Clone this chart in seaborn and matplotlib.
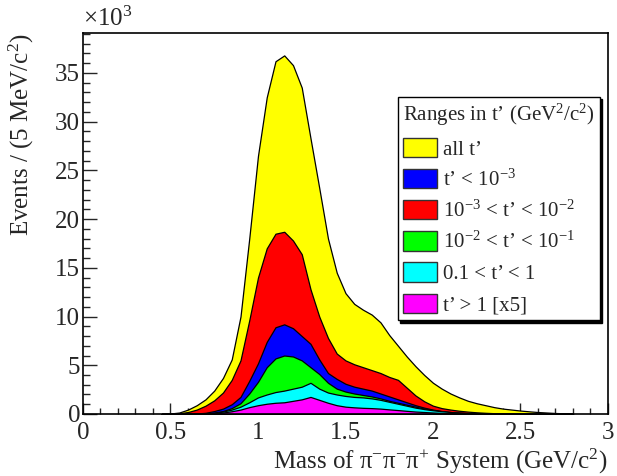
import numpy as np
import pandas as pd
import seaborn as sns
import matplotlib.pyplot as plt
from matplotlib.patches import Patch
from matplotlib.ticker import MultipleLocator

# bin centres in GeV/c^2, counts in units of 10^3 events per 5 MeV
mass = [0.45, 0.50, 0.55, 0.60, 0.65, 0.70, 0.75, 0.80, 0.85, 0.90,
        0.95, 1.00, 1.05, 1.10, 1.15, 1.20, 1.25, 1.30, 1.35, 1.40,
        1.45, 1.50, 1.55, 1.60, 1.65, 1.70, 1.75, 1.80, 1.85, 1.90,
        1.95, 2.00, 2.05, 2.10, 2.15, 2.20, 2.25, 2.30, 2.35, 2.40,
        2.45, 2.50, 2.55, 2.60, 2.65, 2.70, 2.75, 2.80]

all_t = [0.0, 0.05, 0.15, 0.45, 0.9, 1.5, 2.4, 3.7, 5.6, 10.0,
         18.0, 26.5, 32.5, 36.2, 36.8, 35.8, 33.5, 28.3, 23.2, 18.0,
         14.5, 12.4, 11.3, 10.7, 10.2, 9.4, 8.1, 7.0, 5.9, 4.9,
         4.0, 3.2, 2.6, 2.1, 1.7, 1.35, 1.1, 0.9, 0.7, 0.55,
         0.45, 0.35, 0.27, 0.2, 0.15, 0.1, 0.07, 0.05]

t_1e3_1e2 = [0.0, 0.02, 0.07, 0.2, 0.45, 0.85, 1.4, 2.2, 3.5, 5.5,
             9.6, 14.0, 17.0, 18.5, 18.7, 17.8, 16.4, 12.8, 10.0, 7.8,
             6.2, 5.5, 5.1, 4.8, 4.5, 4.2, 3.8, 3.5, 2.7, 1.9,
             1.3, 0.85, 0.6, 0.45, 0.33, 0.24, 0.17, 0.12, 0.08, 0.05,
             0.03, 0.02, 0.01, 0.0, 0.0, 0.0, 0.0, 0.0]

t_lt_1e3 = [0.0, 0.0, 0.0, 0.0, 0.05, 0.12, 0.3, 0.55, 1.0, 1.75,
            3.4, 5.2, 7.4, 8.9, 9.2, 8.8, 8.0, 7.2, 5.6, 4.2,
            3.6, 3.1, 2.8, 2.6, 2.4, 2.1, 1.8, 1.5, 1.2, 0.9,
            0.65, 0.45, 0.3, 0.2, 0.13, 0.08, 0.05, 0.03, 0.02, 0.01,
            0.0, 0.0, 0.0, 0.0, 0.0, 0.0, 0.0, 0.0]

t_1e2_1e1 = [0.0, 0.0, 0.0, 0.0, 0.0, 0.05, 0.15, 0.3, 0.6, 1.1,
             2.1, 3.3, 4.8, 5.7, 6.0, 5.9, 5.5, 4.8, 4.1, 3.2,
             2.6, 2.3, 2.1, 1.95, 1.8, 1.6, 1.35, 1.15, 0.95, 0.75,
             0.55, 0.4, 0.28, 0.18, 0.12, 0.08, 0.05, 0.03, 0.02, 0.01,
             0.0, 0.0, 0.0, 0.0, 0.0, 0.0, 0.0, 0.0]

t_01_1 = [0.0, 0.0, 0.0, 0.0, 0.0, 0.03, 0.1, 0.25, 0.45, 0.75,
          1.2, 1.7, 2.0, 2.25, 2.4, 2.6, 2.8, 3.2, 2.6, 2.2,
          2.0, 1.85, 1.75, 1.7, 1.6, 1.45, 1.25, 1.05, 0.85, 0.65,
          0.5, 0.38, 0.28, 0.2, 0.14, 0.09, 0.06, 0.04, 0.02, 0.01,
          0.0, 0.0, 0.0, 0.0, 0.0, 0.0, 0.0, 0.0]

t_gt_1 = [0.0, 0.0, 0.0, 0.0, 0.0, 0.03, 0.08, 0.15, 0.28, 0.45,
          0.7, 0.9, 1.05, 1.15, 1.2, 1.35, 1.5, 1.75, 1.45, 1.15,
          0.9, 0.75, 0.68, 0.63, 0.6, 0.55, 0.47, 0.4, 0.32, 0.25,
          0.2, 0.15, 0.11, 0.08, 0.06, 0.04, 0.03, 0.02, 0.01, 0.0,
          0.0, 0.0, 0.0, 0.0, 0.0, 0.0, 0.0, 0.0]

series = [
    ("all t’",                            all_t,     "#ffff00"),
    ("10$^{-3}$ < t’ < 10$^{-2}$",        t_1e3_1e2, "#ff0000"),
    ("t’ < 10$^{-3}$",                    t_lt_1e3,  "#0000ff"),
    ("10$^{-2}$ < t’ < 10$^{-1}$",        t_1e2_1e1, "#00ff00"),
    ("0.1 < t’ < 1",                      t_01_1,    "#00ffff"),
    ("t’ > 1 [x5]",                       t_gt_1,    "#ff00ff"),
]
legend_order = [0, 2, 1, 3, 4, 5]

sns.set_style("white")
plt.rcParams["font.family"] = ["Liberation Serif", "DejaVu Serif"]
plt.rcParams["mathtext.fontset"] = "custom"
plt.rcParams["mathtext.rm"] = "Liberation Serif"
plt.rcParams["mathtext.it"] = "Liberation Serif:italic"
plt.rcParams["mathtext.default"] = "regular"

fig = plt.figure(figsize=(6.17, 4.76), dpi=100)
ax = fig.add_axes([0.1345, 0.1303, 0.8509, 0.8004])

for label, vals, color in series:
    df = pd.DataFrame({"mass": mass, "n": vals})
    sns.histplot(data=df, x="mass", weights="n", binwidth=0.05,
                 binrange=(0.425, 2.825), element="poly", fill=True,
                 color=color, alpha=1, edgecolor="black", linewidth=0.9, ax=ax)

ax.set_xlim(0, 3)
ax.set_ylim(0, 39.1)
ax.xaxis.set_major_locator(MultipleLocator(0.5))
ax.xaxis.set_minor_locator(MultipleLocator(0.1))
ax.yaxis.set_major_locator(MultipleLocator(5))
ax.yaxis.set_minor_locator(MultipleLocator(1))
ax.xaxis.set_major_formatter(lambda v, p: f"{v:g}")
ax.tick_params(axis="y", which="major", direction="in", length=10, width=1, labelsize=18, pad=2)
ax.tick_params(axis="y", which="minor", direction="in", length=5, width=1)
ax.tick_params(axis="x", which="major", direction="in", length=8, width=1, labelsize=18, pad=6)
ax.tick_params(axis="x", which="minor", direction="in", length=4, width=1)
ax.tick_params(left=True, bottom=True, which="both")
for s in ax.spines.values():
    s.set_linewidth(1.2)
    s.set_color("black")

ax.set_xlabel(r"Mass of $\pi^{-}\pi^{-}\pi^{+}$ System (GeV/c$^{2}$)", loc="right", fontsize=18, labelpad=2)
ax.set_ylabel(r"Events / (5 MeV/c$^{2}$)", loc="top", fontsize=18, labelpad=14)
ax.text(0.0, 1.005, r"$\times$10$^{3}$", transform=ax.transAxes, fontsize=18, ha="left", va="bottom")

handles = [Patch(facecolor=series[i][2], edgecolor="#333333", linewidth=1) for i in legend_order]
labels = [series[i][0] for i in legend_order]
leg = ax.legend(handles, labels, title="Ranges in t’ (GeV$^{2}$/c$^{2}$)",
                loc="upper right", bbox_to_anchor=(0.985, 0.832), borderaxespad=0,
                fancybox=False, shadow={"color": "black", "alpha": 1, "ox": 1.5, "oy": -1.5},
                fontsize=15, title_fontsize=15, alignment="left",
                handlelength=1.6, handleheight=1.05, handletextpad=0.3,
                labelspacing=0.45, borderpad=0.25)
leg.get_frame().set_edgecolor("black")
leg.get_frame().set_linewidth(1)

fig.savefig("out.png", dpi=100)
